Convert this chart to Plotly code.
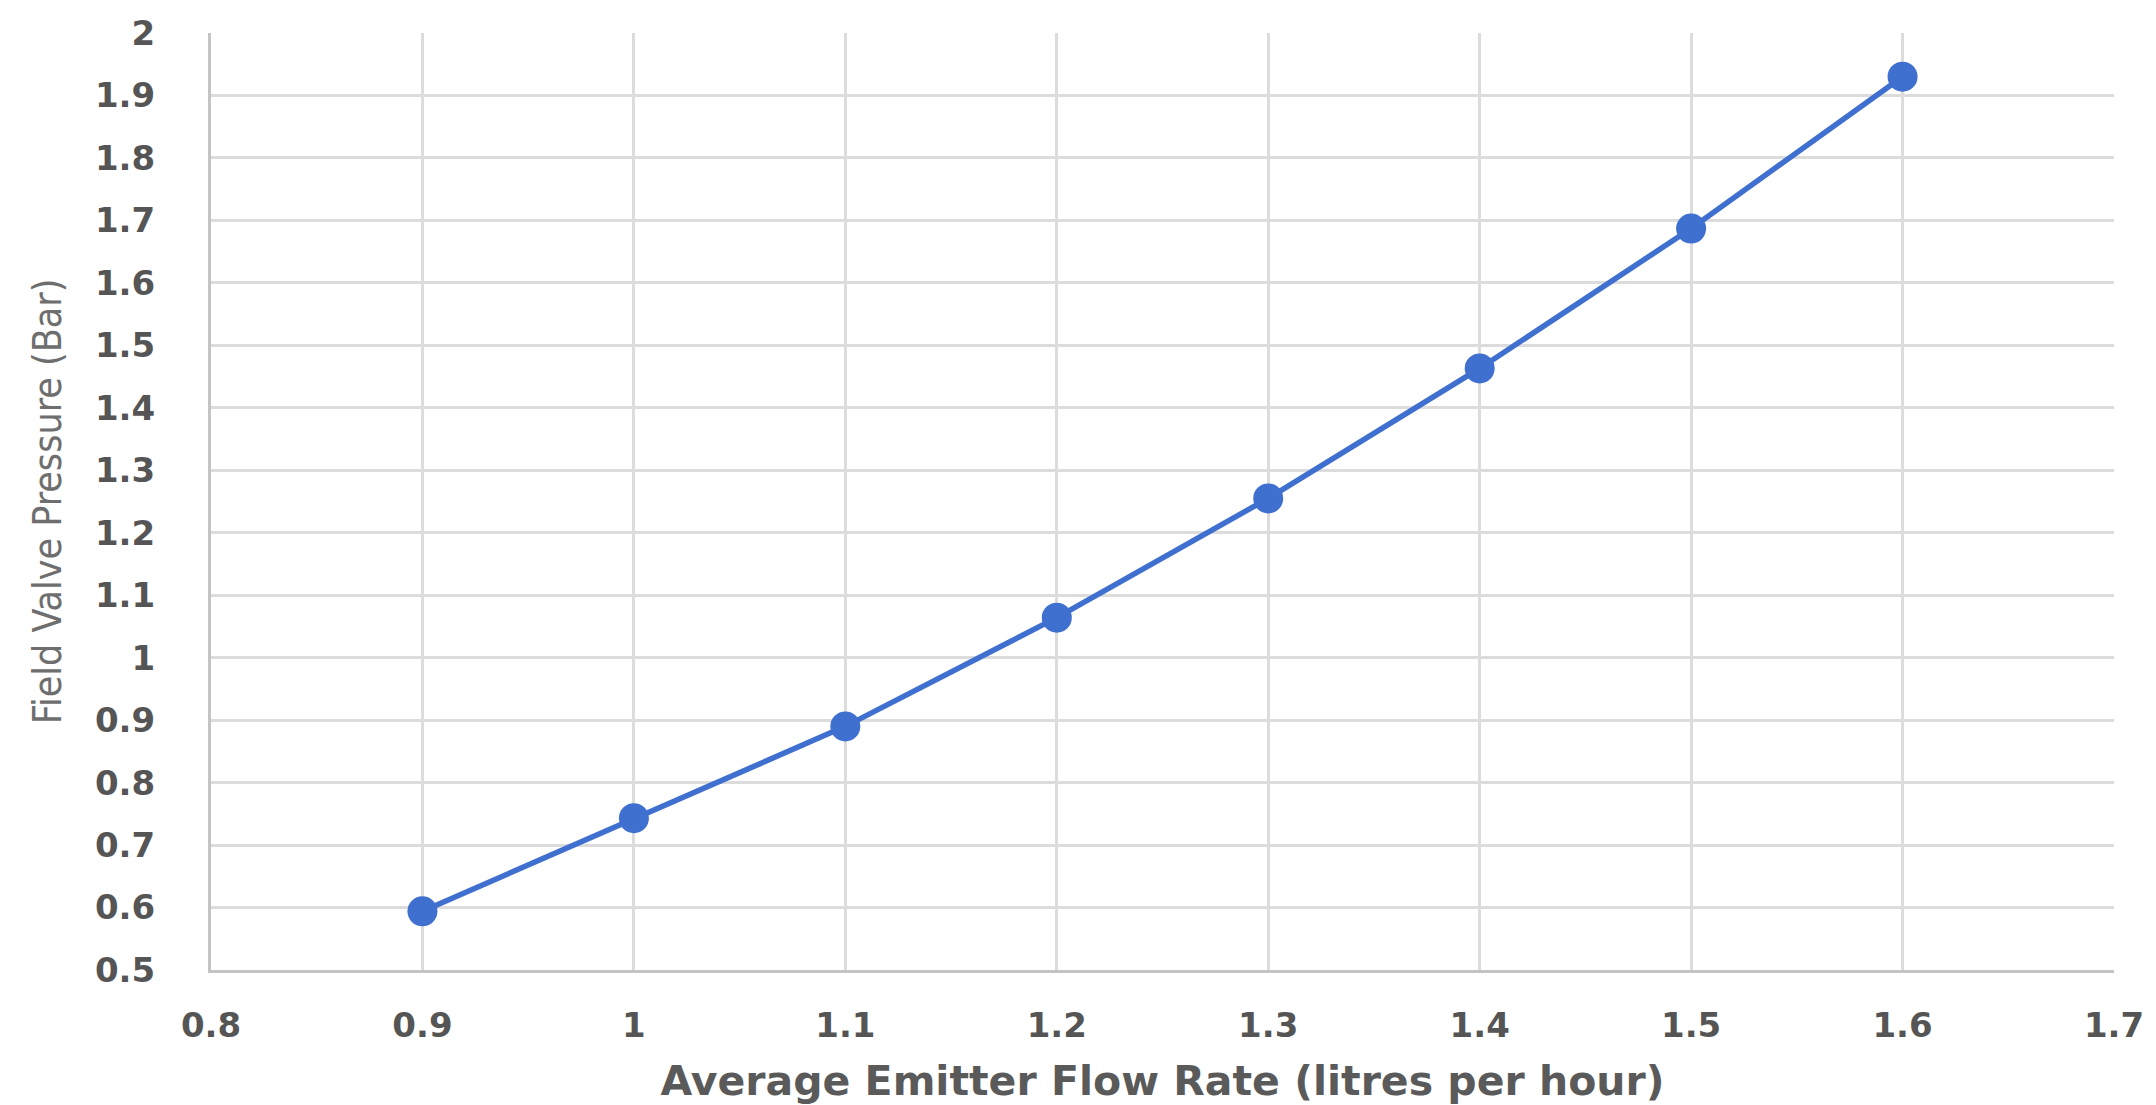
import plotly.graph_objects as go

flow_rate = [0.9, 1.0, 1.1, 1.2, 1.3, 1.4, 1.5, 1.6]
pressure = [0.594, 0.743, 0.890, 1.064, 1.255, 1.463, 1.687, 1.930]

x_ticks = [0.8, 0.9, 1.0, 1.1, 1.2, 1.3, 1.4, 1.5, 1.6, 1.7]
x_labels = ["0.8", "0.9", "1", "1.1", "1.2", "1.3", "1.4", "1.5", "1.6", "1.7"]
y_ticks = [0.5, 0.6, 0.7, 0.8, 0.9, 1.0, 1.1, 1.2, 1.3, 1.4, 1.5, 1.6, 1.7, 1.8, 1.9, 2.0]
y_labels = ["0.5", "0.6", "0.7", "0.8", "0.9", "1", "1.1", "1.2", "1.3", "1.4",
            "1.5", "1.6", "1.7", "1.8", "1.9", "2"]

fig = go.Figure(go.Scatter(
    x=flow_rate, y=pressure, mode="lines+markers",
    line=dict(color="#3f6fcf", width=5.5),
    marker=dict(color="#3f6fcf", size=30),
    showlegend=False,
))

tick_font = dict(family="DejaVu Sans", size=34, color="#555555", weight="bold")

fig.update_layout(
    width=2148, height=1097,
    margin=dict(l=203, r=42, t=25, b=135),
    paper_bgcolor="white", plot_bgcolor="white",
    xaxis=dict(
        range=[0.8, 1.7], tickvals=x_ticks, ticktext=x_labels, automargin=False,
        showgrid=True, gridcolor="#dcdcdc", gridwidth=3,
        showline=True, linecolor="#c4c4c4", linewidth=3, mirror=False,
        zeroline=False, ticks="", tickfont=tick_font, ticklabelstandoff=23,
        title=dict(text="<b>Average Emitter Flow Rate (litres per hour)</b>",
                   font=dict(family="DejaVu Sans", size=41, color="#5a5a5a"),
                   standoff=28),
    ),
    yaxis=dict(
        range=[0.5, 2.0], tickvals=y_ticks, ticktext=y_labels, automargin=False,
        showgrid=True, gridcolor="#dcdcdc", gridwidth=3,
        showline=True, linecolor="#c4c4c4", linewidth=3,
        zeroline=False, ticks="", tickfont=tick_font, ticklabelstandoff=46,
        title=dict(text="Field Valve Pressure (Bar)",
                   font=dict(family="DejaVu Sans Condensed", size=39, color="#6e6e6e"),
                   standoff=22),
    ),
)

fig.write_html("out.html")
